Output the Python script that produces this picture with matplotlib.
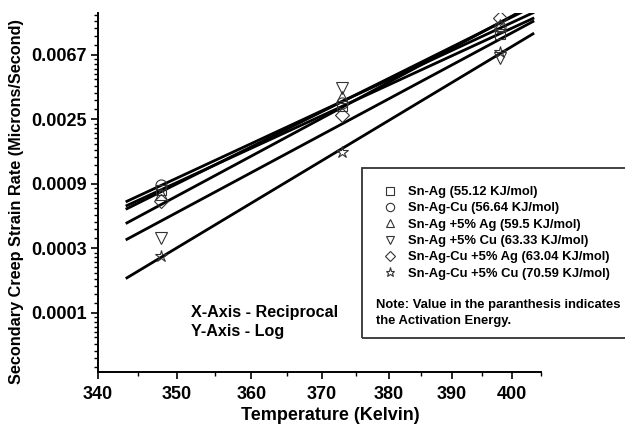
import numpy as np
import matplotlib
matplotlib.use("Agg")
import matplotlib.pyplot as plt
from matplotlib.patches import Rectangle
from matplotlib.ticker import FixedLocator, FuncFormatter

plt.rcParams['font.family'] = ['Liberation Sans', 'DejaVu Sans']
plt.rcParams['font.weight'] = 'bold'

# test temperatures (K)
temps = np.array([348, 373, 398])

# ln(strain rate), one list per alloy
ln_sn_ag = [-7.09, -5.79, -4.67]
ln_sn_ag_cu = [-7.01, -5.74, -4.57]
ln_sn_ag_5ag = [-7.15, -5.65, -4.54]
ln_sn_ag_5cu = [-7.83, -5.51, -5.05]
ln_sn_ag_cu_5ag = [-7.26, -5.93, -4.43]
ln_sn_ag_cu_5cu = [-8.11, -6.50, -4.95]

labels = ['Sn-Ag (55.12 KJ/mol)', 'Sn-Ag-Cu (56.64 KJ/mol)',
          'Sn-Ag +5% Ag (59.5 KJ/mol)', 'Sn-Ag +5% Cu (63.33 KJ/mol)',
          'Sn-Ag-Cu +5% Ag (63.04 KJ/mol)', 'Sn-Ag-Cu +5% Cu (70.59 KJ/mol)']
series = [ln_sn_ag, ln_sn_ag_cu, ln_sn_ag_5ag, ln_sn_ag_5cu,
          ln_sn_ag_cu_5ag, ln_sn_ag_cu_5cu]
markers = ['s', 'o', '^', 'v', 'D', '*']
msizes = [7, 8, 8, 8, 7, 9]

# range of the fitted lines (K)
fit_range = (343.6, 403.6)

y_major = [-9, -8, -7, -6, -5]

fig = plt.figure(figsize=(6.25, 4.25), dpi=100)
ax = fig.add_axes([98 / 625, 53 / 425, 443 / 625, 359 / 425])

recip = (lambda t: -1.0 / t, lambda u: -1.0 / u)
ax.set_xscale('function', functions=recip)
ax.set_yscale('log', base=np.e)

tt = np.linspace(fit_range[0], fit_range[1], 50)
handles = []
for lnv, m, ms, lab in zip(series, markers, msizes, labels):
    k, b = np.polyfit(1.0 / temps, lnv, 1)
    ax.plot(tt, np.exp(k / tt + b), color='black', lw=2.0, zorder=2)
    h, = ax.plot(temps, np.exp(lnv), linestyle='none', marker=m, ms=ms,
                 mfc='none', mec='#333333', mew=0.8, label=lab, zorder=3)
    handles.append(h)

ax.set_xlim(340, 405)
ax.set_ylim(np.exp(-9.915), np.exp(-4.349))

ax.xaxis.set_major_locator(FixedLocator(np.arange(340, 401, 10)))
ax.xaxis.set_minor_locator(FixedLocator(np.arange(345, 406, 10)))
ax.xaxis.set_major_formatter(FuncFormatter(lambda v, p: '%d' % round(v)))
ax.xaxis.set_minor_formatter(FuncFormatter(lambda v, p: ''))

ax.yaxis.set_major_locator(FixedLocator(np.exp(y_major)))
minors = []
for lo in range(-10, -4):
    a, c = np.exp(lo), np.exp(lo + 1)
    minors += list(a + (c - a) * np.arange(1, 10) / 10)
ax.yaxis.set_minor_locator(FixedLocator(minors))
ax.yaxis.set_major_formatter(FuncFormatter(lambda v, p: '%.4f' % v))
ax.yaxis.set_minor_formatter(FuncFormatter(lambda v, p: ''))

for s in ['top', 'right']:
    ax.spines[s].set_visible(False)
for s in ['left', 'bottom']:
    ax.spines[s].set_linewidth(1.4)
ax.tick_params(which='major', length=5, width=1.2, labelsize=13, pad=3)
ax.tick_params(axis='x', which='major', pad=5)
ax.tick_params(which='minor', length=3, width=1.0)
for t in ax.get_xticklabels() + ax.get_yticklabels():
    t.set_fontweight('bold')

ax.set_xlabel('Temperature (Kelvin)', fontsize=13, fontweight='bold', labelpad=4)
ax.xaxis.set_label_coords(0.524, -0.098)
ax.set_ylabel('Secondary Creep Strain Rate (Microns/Second)', fontsize=11.7,
              fontweight='bold', labelpad=4)
ax.yaxis.set_label_coords(-0.168, 0.476)

ax.text(191 / 625, 1 - 322 / 425, 'X-Axis - Reciprocal\nY-Axis - Log',
        transform=fig.transFigure, fontsize=11.6, fontweight='bold',
        va='center', ha='left', linespacing=1.35)

fig.patches.append(Rectangle((362 / 625, 1 - 338 / 425), 0.6, 170 / 425,
                             transform=fig.transFigure, fill=False,
                             edgecolor='#333333', lw=1.3, clip_on=False))
leg = fig.legend(handles=handles, loc='upper left',
                 bbox_to_anchor=(383 / 625, 1 - 186 / 425), frameon=False,
                 fontsize=9.4, markerscale=0.75, handlelength=1.0,
                 handletextpad=0.9, labelspacing=0.32, borderpad=0,
                 borderaxespad=0)
for t in leg.get_texts():
    t.set_fontweight('bold')
fig.text(376 / 625, 1 - 313 / 425,
         'Note: Value in the paranthesis indicates\nthe Activation Energy.',
         fontsize=9.4, fontweight='bold', va='center', ha='left',
         linespacing=1.45)

fig.savefig('out.png', dpi=100)
